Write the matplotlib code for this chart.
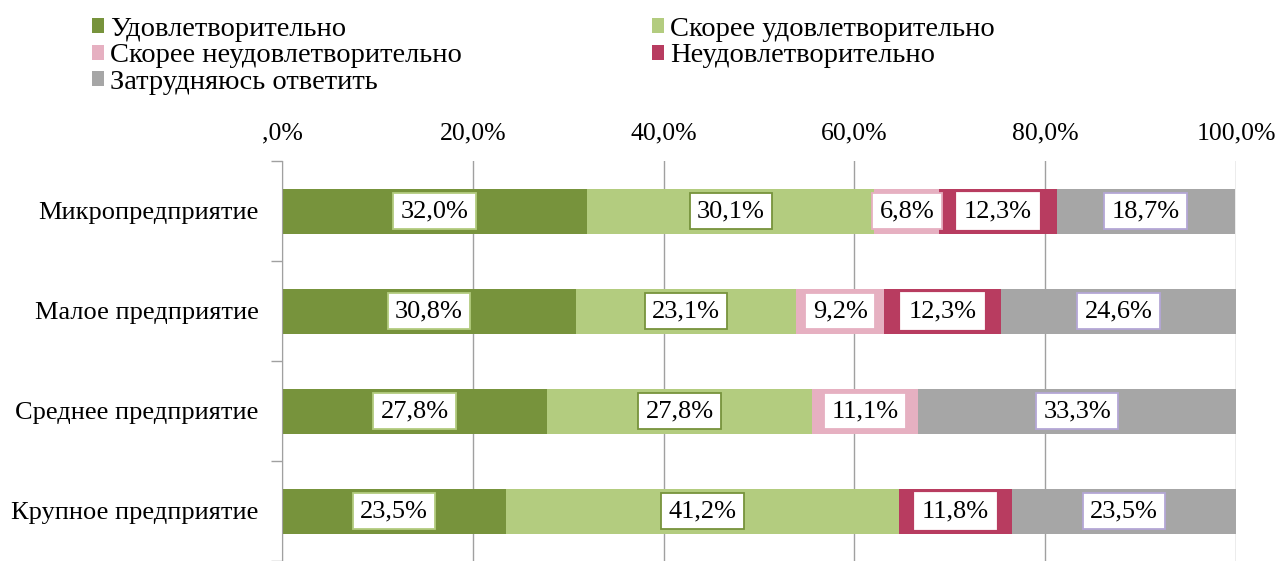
import matplotlib
matplotlib.use("Agg")
import matplotlib.pyplot as plt
import numpy as np

plt.rcParams['font.family'] = ['Liberation Serif', 'DejaVu Serif']

# data
categories = ['Микропредприятие', 'Малое предприятие', 'Среднее предприятие', 'Крупное предприятие']
series_names = ['Удовлетворительно', 'Скорее удовлетворительно', 'Скорее неудовлетворительно',
                'Неудовлетворительно', 'Затрудняюсь ответить']
udovl = [32.0, 30.8, 27.8, 23.5]
skoree_udovl = [30.1, 23.1, 27.8, 41.2]
skoree_neudovl = [6.8, 9.2, 11.1, 0.0]
neudovl = [12.3, 12.3, 0.0, 11.8]
zatrud = [18.7, 24.6, 33.3, 23.5]
xtick_labels = [',0%', '20,0%', '40,0%', '60,0%', '80,0%', '100,0%']

colors = ['#77933C', '#B3CC7F', '#E6B0C1', '#B83C60', '#A6A6A6']
box_edges = ['#B3CC7F', '#77933C', '#E6B0C1', '#FFFFFF', '#B4A7D6']

fig = plt.figure(figsize=(12.78, 5.61), dpi=100)
ax = fig.add_axes([282/1278, 0.0, (1236-282)/1278, 1 - 161/561])

y = np.arange(len(categories))
left = np.zeros(len(categories))
handles = []
for vals, name, c, ec in zip([udovl, skoree_udovl, skoree_neudovl, neudovl, zatrud],
                             series_names, colors, box_edges):
    vals = np.array(vals)
    h = ax.barh(y, vals, left=left, height=0.45, color=c, label=name, zorder=2)
    handles.append(h)
    for i, v in enumerate(vals):
        if v > 0:
            ax.text(left[i] + v / 2, y[i], f'{v:.1f}%'.replace('.', ','),
                    ha='center', va='center', fontsize=19, zorder=4,
                    bbox=dict(boxstyle='square,pad=0.28', fc='white', ec=ec, lw=1.3))
    left += vals

ax.set_xlim(0, 100)
ax.set_ylim(3.45, -0.5)
ax.set_xticks([0, 20, 40, 60, 80, 100])
ax.set_xticklabels(xtick_labels)
ax.xaxis.tick_top()
ax.tick_params(axis='x', length=0, pad=12, labelsize=18.5)
ax.set_yticks(y)
ax.set_yticklabels(categories)
ax.tick_params(axis='y', length=0, pad=17, labelsize=19)
ax.set_yticks([-0.5, 0.5, 1.5, 2.5, 3.5], minor=True)
ax.tick_params(axis='y', which='minor', length=8, color='#A0A0A0', width=1)
ax.grid(axis='x', color='#A0A0A0', lw=1, zorder=0)
for s in ['top', 'right', 'bottom']:
    ax.spines[s].set_visible(False)
ax.spines['left'].set_color('#A0A0A0')

order = [0, 2, 4, 1, 3]
fig.legend([handles[i] for i in order], [series_names[i] for i in order],
           loc='upper left', bbox_to_anchor=(72/1278, 1.0 + 3/561), ncol=2, frameon=False,
           fontsize=20.5, handlelength=0.42, handleheight=0.42, handletextpad=0.2,
           columnspacing=6.7, labelspacing=0.05, borderpad=0.2)

fig.savefig('out.png', dpi=100)
